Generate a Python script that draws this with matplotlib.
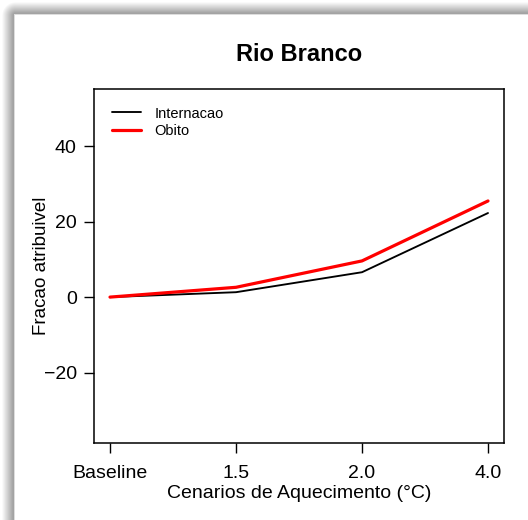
"""Rio Branco: attributable fraction under warming scenarios."""
import matplotlib

matplotlib.use("Agg")
import matplotlib.pyplot as plt  # noqa: E402
import numpy as np  # noqa: E402

plt.rcParams.update({
    "font.family": ["Liberation Sans", "DejaVu Sans"],
    "font.size": 14,
    "axes.linewidth": 1.1,
})

# ---------------------------------------------------------------------------
# Data
# ---------------------------------------------------------------------------
scenarios = ["Baseline", "1.5", "2.0", "4.0"]
internacao = [0.0, 1.3, 6.6, 22.3]
obito = [0.0, 2.6, 9.6, 25.5]

W, H, DPI = 528, 520, 100

fig = plt.figure(figsize=(W / DPI, H / DPI), dpi=DPI)
fig.patch.set_facecolor("white")

# drop-shadow frame around the panel (top and left edges)
edge = 15
xx, yy = np.meshgrid(np.arange(W), np.arange(H))
dx = np.clip(edge - xx, 0, None)
dy = np.clip(edge - yy, 0, None)
dist = np.sqrt(dx ** 2 + dy ** 2)
shade = np.ones((H, W))
band = dist > 0
shade[band] = np.clip(0.64 + 0.36 * (dist[band] - 2.5) / 11.0, 0.64, 1.0)
shade[(dist > 0) & (dist <= 1.5)] = 0.87
alpha = np.where(band, 1.0, 0.0)
fig.figimage(np.dstack([shade, shade, shade, alpha]), origin="upper",
             resize=False, zorder=-10)

ax = fig.add_axes([94 / W, 1 - 443 / H, 410 / W, 354 / H])
ax.set_facecolor("white")

x = np.arange(1, len(scenarios) + 1)
ax.plot(x, internacao, color="black", linewidth=1.35, solid_joinstyle="round",
        solid_capstyle="round", label="Internacao")
ax.plot(x, obito, color="#ff0000", linewidth=2.3, solid_joinstyle="round",
        solid_capstyle="round", label="Obito")

ax.set_xlim(0.873, 4.127)
ax.set_ylim(-38.7, 55.2)
ax.set_xticks(x)
ax.set_xticklabels(scenarios)
ax.set_yticks([-20, 0, 20, 40])
ax.set_yticklabels(["\u221220", "0", "20", "40"])
ax.tick_params(axis="x", length=7, width=1.0, pad=8.5, labelsize=14)
ax.tick_params(axis="y", length=7, width=1.0, pad=5.5, labelsize=14)

ax.set_xlabel("Cenarios de Aquecimento (\u00b0C)", fontsize=14)
ax.xaxis.set_label_coords(0.5, -0.118)
ax.set_ylabel("Fracao atribuivel", fontsize=13.5)
ax.yaxis.set_label_coords(-0.108, 0.5)

ax.set_title("Rio Branco", fontsize=17, fontweight="bold", pad=20.5)

ax.legend(loc="upper left", bbox_to_anchor=(0.0, 1.0), frameon=False,
          fontsize=10.5, handlelength=2.05, handletextpad=0.9,
          labelspacing=0.25, borderpad=0.9, borderaxespad=0.3)

fig.savefig("out.png", dpi=DPI)
